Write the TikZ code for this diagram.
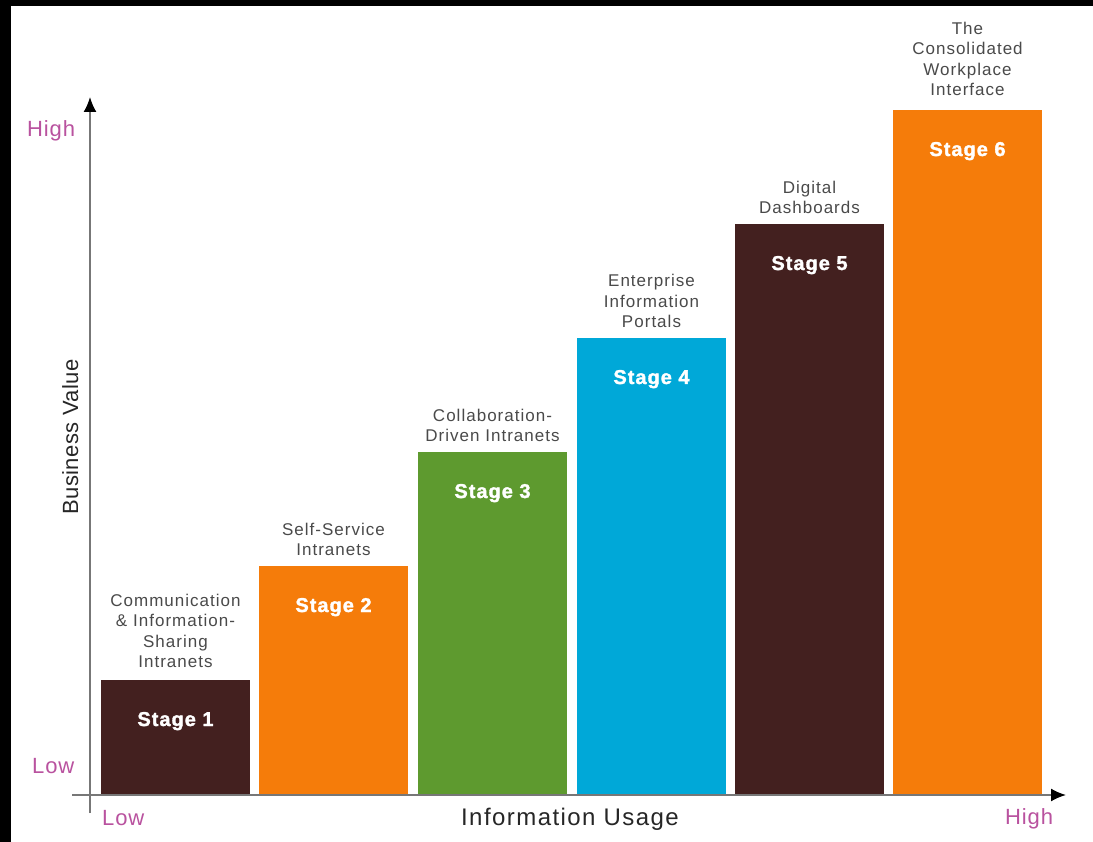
\documentclass[tikz,border=0pt]{standalone}
\usepackage{fontspec}
\setmainfont{Liberation Sans}
\usetikzlibrary{positioning, arrows.meta}

\definecolor{stagedark}{HTML}{43201F}
\definecolor{stageorange}{HTML}{F57C0A}
\definecolor{stagegreen}{HTML}{5E9A2F}
\definecolor{stageblue}{HTML}{00A8D8}
\definecolor{labelgray}{HTML}{4A4A4A}
\definecolor{axisgray}{HTML}{777777}
\definecolor{levelpink}{HTML}{B9529F}

\tikzset{
  bar/.style={draw=none, minimum width=149pt, inner sep=0pt, outer sep=0pt, anchor=south west},
  desc/.style={align=center, inner sep=0pt, text=labelgray,
    font=\fontsize{17}{20.5}\selectfont\addfontfeature{LetterSpace=6}},
  stagetext/.style={anchor=base, inner sep=0pt, text=white,
    font=\bfseries\fontsize{20}{22}\selectfont\addfontfeature{LetterSpace=5,FakeBold=1.6}},
  level/.style={anchor=base west, inner sep=0pt, text=levelpink,
    font=\fontsize{22}{26}\selectfont\addfontfeature{LetterSpace=4}},
  axistitle/.style={anchor=base, inner sep=0pt, text=black!85,
    font=\fontsize{22}{26}\selectfont\addfontfeature{LetterSpace=2}},
  axisline/.style={draw=axisgray, line width=1.8pt, -{Latex[length=15pt,width=13pt,black]}}
}

\begin{document}
\begin{tikzpicture}[x=1pt, y=-1pt]
    % Frame of the picture
    \useasboundingbox (0,0) rectangle (1093,842);
    \fill[white] (0,0) rectangle (1093,842);
    \fill[black] (0,0) rectangle (1093,6);   % Top band
    \fill[black] (0,0) rectangle (11,842);   % Left band

    % Bars for the six stages
    \node[bar, fill=stagedark,   minimum height=115pt] (bar1) at (101,795) {};
    \node[bar, fill=stageorange, minimum height=229pt] (bar2) at (259,795) {};
    \node[bar, fill=stagegreen,  minimum height=343pt] (bar3) at (418,795) {};
    \node[bar, fill=stageblue,   minimum height=457pt] (bar4) at (577,795) {};
    \node[bar, fill=stagedark,   minimum height=571pt] (bar5) at (735,795) {};
    \node[bar, fill=stageorange, minimum height=685pt] (bar6) at (893,795) {};

    % Stage names inside the bars
    \node[stagetext] (stage1) at ([yshift=-46pt]bar1.north) {Stage 1};
    \node[stagetext] (stage2) at ([yshift=-46pt]bar2.north) {Stage 2};
    \node[stagetext] (stage3) at ([yshift=-46pt]bar3.north) {Stage 3};
    \node[stagetext] (stage4) at ([yshift=-46pt]bar4.north) {Stage 4};
    \node[stagetext] (stage5) at ([yshift=-46pt]bar5.north) {Stage 5};
    \node[stagetext] (stage6) at ([yshift=-46pt]bar6.north) {Stage 6};

    % Descriptions above the bars
    \node[desc, above=12pt of bar1] (desc1) {Communication\\\& Information-\\Sharing\\Intranets};
    \node[desc, above=10pt of bar2] (desc2) {Self-Service\\Intranets};
    \node[desc, above=10pt of bar3] (desc3) {Collaboration-\\Driven Intranets};
    \node[desc, above=10pt of bar4] (desc4) {Enterprise\\Information\\Portals};
    \node[desc, above=10pt of bar5] (desc5) {Digital\\Dashboards};
    \node[desc, above=14pt of bar6] (desc6) {The\\Consolidated\\Workplace\\Interface};

    % Axes
    \coordinate (ybottom) at (90,813);
    \coordinate (ytop) at (90,97);
    \coordinate (xleft) at (72,795);
    \coordinate (xright) at (1066,795);
    \draw[axisline] (ybottom) -- (ytop);
    \draw[axisline] (xleft) -- (xright);

    % Axis labels
    \node[level] (yhigh) at (27,137) {High};
    \node[level] (ylow) at (32,773) {Low};
    \node[level] (xlow) at (102,825) {Low};
    \node[level] (xhigh) at (1005,824) {High};
    \node[axistitle, font=\fontsize{24}{28}\selectfont\addfontfeature{LetterSpace=6}] (xtitle) at (570,825) {Information Usage};
    \node[axistitle, rotate=90] (ytitle) at (78,437) {Business Value};
\end{tikzpicture}
\end{document}
